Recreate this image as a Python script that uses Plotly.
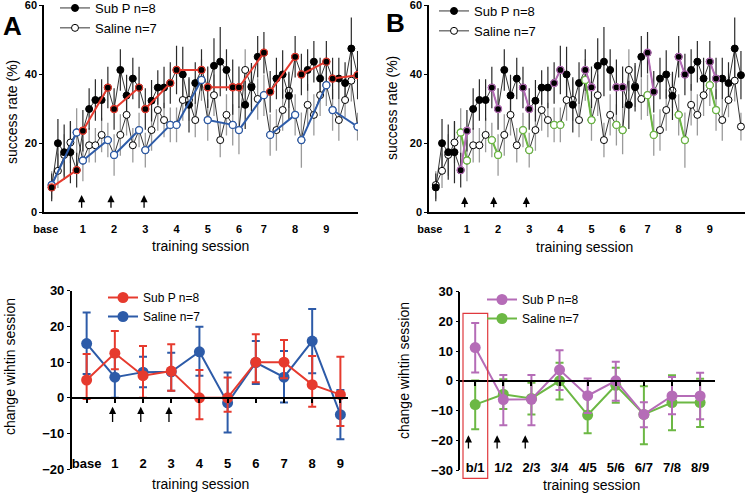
import plotly.graph_objects as go

W, H = 745, 493
FONT = "Liberation Sans, Arial, sans-serif"

# ---------------- data ----------------
sessions = ["base", "1", "2", "3", "4", "5", "6", "7", "8", "9"]
trials_per_session = 5

subp_rate = [7.2, 20.0, 17.4, 17.4, 12.2,
             23.6, 29.9, 32.5, 32.5, 36.1,
             29.9, 41.2, 33.8, 38.7, 36.1,
             29.9, 32.3, 36.1, 36.1, 37.4,
             41.2, 39.9, 31.1, 37.4, 41.2,
             36.2, 42.4, 43.6, 41.2, 36.2,
             36.2, 31.1, 36.2, 45.0, 46.2,
             34.9, 38.7, 39.9, 33.7, 45.0,
             39.9, 41.2, 43.6, 38.7, 43.6,
             38.7, 38.7, 37.4, 47.4, 39.7]
subp_rate_err = [4, 7, 8, 9, 5, 6, 6, 6, 6, 6,
                 6, 6, 6, 6, 6, 6, 6, 5, 6, 6,
                 7, 8, 8, 6, 6, 6, 8, 10, 6, 8,
                 6, 7, 7, 6, 6, 6, 6, 7, 7, 6,
                 6, 6, 6, 6, 6, 6, 6, 6, 9, 7]
saline_rate = [7.9, 12.0, 16.6, 20.2, 23.1,
               15.0, 19.4, 19.4, 22.4, 20.9,
               16.6, 22.4, 28.2, 19.4, 23.8,
               18.0, 23.8, 29.6, 26.7, 25.3,
               25.3, 32.5, 32.5, 26.7, 38.3,
               26.7, 33.9, 20.9, 28.2, 25.3,
               23.8, 41.2, 36.5, 32.8, 33.9,
               22.4, 23.8, 29.6, 35.2, 28.2,
               20.9, 31.1, 28.2, 33.9, 36.8,
               29.6, 26.7, 32.5, 38.1, 24.8]
saline_rate_err = [4, 5, 6, 6, 7, 6, 5, 5, 5, 5,
                   6, 6, 6, 5, 5, 5, 6, 6, 5, 5,
                   5, 6, 6, 5, 6, 6, 6, 5, 6, 6,
                   7, 6, 6, 6, 6, 6, 6, 6, 5, 6,
                   8, 6, 6, 6, 6, 6, 6, 5, 6, 4]
top_tick_pos = [-0.95, 5, 10, 15, 20, 25, 30, 34, 39, 44]

change_cats = sessions
subp_change = [5.0, 12.5, 6.2, 7.5, 0.0, 0.0, 10.0, 10.0, 3.7, 0.9]
subp_change_up = [7.3, 6.2, 8.3, 7.5, 7.8, 5.7, 7.8, 6.2, 8.0, 10.6]
subp_change_dn = [5.3, 4.5, 6.2, 5.5, 6.0, 3.9, 5.6, 4.5, 6.2, 8.8]
saline_change = [15.2, 5.8, 7.2, 7.3, 12.9, -1.4, 9.9, 5.8, 15.9, -4.7]
saline_change_up = [8.7, 5.8, 4.3, 5.3, 7.0, 8.5, 6.0, 7.3, 9.0, 6.9]
saline_change_dn = [8.5, 5.8, 4.2, 5.3, 6.7, 8.3, 6.0, 7.1, 9.0, 6.9]

between_cats = ["b/1", "1/2", "2/3", "3/4", "4/5", "5/6", "6/7", "7/8", "8/9"]
subp_between = [11.2, -6.3, -6.2, 3.7, -5.0, 0.0, -11.3, -5.1, -5.1]
subp_between_up = [8.3, 8.3, 8.2, 6.6, 5.8, 6.4, 4.1, 6.4, 7.8]
subp_between_dn = [8.4, 8.6, 8.7, 6.8, 5.8, 6.7, 4.3, 6.1, 7.8]
saline_between = [-8.0, -4.5, -5.9, 0.0, -11.5, -1.5, -11.3, -7.3, -7.3]
saline_between_up = [8.1, 5.0, 5.3, 6.1, 6.2, 5.9, 9.5, 9.2, 8.0]
saline_between_dn = [8.3, 5.0, 5.4, 6.3, 6.1, 5.9, 10.0, 9.3, 8.2]

RED, BLUE = "#e63a2e", "#2d5ba8"
PURPLE, GREEN = "#b56cb7", "#6cb844"

# ---------------- helpers ----------------
tps = trials_per_session
x_trial = list(range(len(subp_rate)))


def seg_within(vals):
    xs, ys = [], []
    for s in range(len(sessions)):
        a, b = s * tps, s * tps + tps - 1
        xs += [a, b, b]
        ys += [vals[a], vals[b], None]
    return xs, ys


def seg_between(vals):
    xs, ys = [], []
    for s in range(len(sessions) - 1):
        a = s * tps + tps - 1
        b = a + 1
        xs += [a, b, b]
        ys += [vals[a], vals[b], None]
    return xs, ys


fig = go.Figure()


def add_top(xa, ya, leg, seg_fn, c_subp, c_sal):
    fig.add_trace(go.Scatter(x=x_trial, y=saline_rate, mode="markers", xaxis=xa, yaxis=ya,
                             marker=dict(size=1, color="rgba(0,0,0,0)"), showlegend=False,
                             hoverinfo="skip",
                             error_y=dict(type="data", array=saline_rate_err, color="#9a9a9a",
                                          thickness=1.3, width=0)))
    fig.add_trace(go.Scatter(x=x_trial, y=subp_rate, mode="markers", xaxis=xa, yaxis=ya,
                             marker=dict(size=1, color="rgba(0,0,0,0)"), showlegend=False,
                             hoverinfo="skip",
                             error_y=dict(type="data", array=subp_rate_err, color="#2a2a2a",
                                          thickness=1.2, width=0)))
    fig.add_trace(go.Scatter(x=x_trial, y=saline_rate, mode="lines+markers", xaxis=xa, yaxis=ya,
                             name="Saline n=7", legend=leg, legendrank=2,
                             line=dict(color="black", width=0.8),
                             marker=dict(size=7, color="white", line=dict(color="black", width=1))))
    fig.add_trace(go.Scatter(x=x_trial, y=subp_rate, mode="lines+markers", xaxis=xa, yaxis=ya,
                             name="Sub P n=8", legend=leg, legendrank=1,
                             line=dict(color="black", width=0.8),
                             marker=dict(size=7, color="black", line=dict(color="black", width=1))))
    sx, sy = seg_fn(saline_rate)
    fig.add_trace(go.Scatter(x=sx, y=sy, mode="lines+markers", xaxis=xa, yaxis=ya, showlegend=False,
                             connectgaps=False, line=dict(color=c_sal, width=2),
                             marker=dict(size=7, color="white", line=dict(color=c_sal, width=1.3))))
    px, py = seg_fn(subp_rate)
    fig.add_trace(go.Scatter(x=px, y=py, mode="lines+markers", xaxis=xa, yaxis=ya, showlegend=False,
                             connectgaps=False, line=dict(color=c_subp, width=2),
                             marker=dict(size=7, color="black", line=dict(color=c_subp, width=1.3))))


add_top("x", "y", "legend", seg_within, RED, BLUE)
add_top("x2", "y2", "legend2", seg_between, PURPLE, GREEN)


def add_bottom(xa, ya, leg, cats, sv, sup, sdn, cv, cup, cdn, c_subp, c_sal):
    fig.add_trace(go.Scatter(x=cats, y=cv, mode="lines+markers", xaxis=xa, yaxis=ya,
                             name="Saline n=7", legend=leg, legendrank=2,
                             line=dict(color=c_sal, width=2),
                             marker=dict(size=11, color=c_sal),
                             error_y=dict(type="data", symmetric=False, array=cup, arrayminus=cdn,
                                          color=c_sal, thickness=2, width=4)))
    fig.add_trace(go.Scatter(x=cats, y=sv, mode="lines+markers", xaxis=xa, yaxis=ya,
                             name="Sub P n=8", legend=leg, legendrank=1,
                             line=dict(color=c_subp, width=2),
                             marker=dict(size=11, color=c_subp),
                             error_y=dict(type="data", symmetric=False, array=sup, arrayminus=sdn,
                                          color=c_subp, thickness=2, width=4)))


add_bottom("x3", "y3", "legend3", change_cats, subp_change, subp_change_up, subp_change_dn,
           saline_change, saline_change_up, saline_change_dn, RED, BLUE)
add_bottom("x4", "y4", "legend4", between_cats, subp_between, subp_between_up, subp_between_dn,
           saline_between, saline_between_up, saline_between_dn, PURPLE, GREEN)

# ---------------- layout ----------------
def px_x(p):
    return p / W


def px_y(p):
    return 1 - p / H


def zero_pos(dom, rng):
    return dom[0] + (0 - rng[0]) / (rng[1] - rng[0]) * (dom[1] - dom[0])


bold_top = dict(family=FONT, size=11, color="black", weight="bold")
bold_bot = dict(family=FONT, size=13, color="black", weight="bold")

common_x = dict(showgrid=False, zeroline=False, showline=True, linecolor="black", linewidth=1.5,
                automargin=False, ticklabeloverflow="allow")
common_y = dict(showgrid=False, zeroline=False, showline=True, linecolor="black", linewidth=1.5,
                ticks="outside", ticklen=3, tickwidth=1.3, tickcolor="black", automargin=False,
                ticklabeloverflow="allow")

y_top_dom = [px_y(212.3), px_y(5)]
y3_dom = [px_y(469.3), px_y(290.7)]
y4_dom = [px_y(470), px_y(291.7)]
y3_rng = [-20, 30]
y4_rng = [-30, 30]

legend_common = dict(xanchor="left", yanchor="top", bgcolor="rgba(0,0,0,0)",
                     tracegroupgap=0, itemwidth=30)

fig.update_layout(
    width=W, height=H, margin=dict(l=0, r=0, t=0, b=0, autoexpand=False),
    paper_bgcolor="white", plot_bgcolor="white",
    font=dict(family=FONT, color="black"),
    xaxis=dict(domain=[px_x(44), px_x(358)], range=[-1.23, 49.07], anchor="y",
               tickvals=top_tick_pos, ticktext=sessions, ticks="", tickfont=bold_top,
               ticklabelstandoff=6, **common_x),
    yaxis=dict(domain=y_top_dom, range=[0, 60], dtick=20, anchor="x", tickfont=bold_top, **common_y),
    xaxis2=dict(domain=[px_x(429), 1.0], range=[-1.09, 49.65], anchor="y2",
                tickvals=top_tick_pos, ticktext=sessions, ticks="", tickfont=bold_top,
                ticklabelstandoff=6, **common_x),
    yaxis2=dict(domain=y_top_dom, range=[0, 60], dtick=20, anchor="x2", tickfont=bold_top, **common_y),
    xaxis3=dict(domain=[px_x(71.7), px_x(348)], range=[-0.53, 9.27], anchor="free",
                position=zero_pos(y3_dom, y3_rng), type="category",
                ticks="outside", ticklen=4, tickwidth=1.5, tickcolor="black",
                tickfont=bold_bot, ticklabelstandoff=50, showgrid=False, zeroline=False,
                showline=True, linecolor="black", linewidth=2, automargin=False,
                ticklabeloverflow="allow"),
    yaxis3=dict(domain=y3_dom, range=y3_rng, dtick=10, anchor="x3", tickfont=bold_bot, **common_y),
    xaxis4=dict(domain=[px_x(460.3), px_x(715.3)], range=[-0.53, 8.54], anchor="free",
                position=zero_pos(y4_dom, y4_rng), type="category",
                ticks="outside", ticklen=4, tickwidth=1.5, tickcolor="black",
                tickfont=bold_bot, ticklabelstandoff=71, showgrid=False, zeroline=False,
                showline=True, linecolor="black", linewidth=2, automargin=False,
                ticklabeloverflow="allow"),
    yaxis4=dict(domain=y4_dom, range=y4_rng, dtick=10, anchor="x4", tickfont=bold_bot, **common_y),
    legend=dict(x=px_x(55), y=px_y(-7), font=dict(family=FONT, size=13), **legend_common),
    legend2=dict(x=px_x(434), y=px_y(-4), font=dict(family=FONT, size=13), **legend_common),
    legend3=dict(x=px_x(103), y=px_y(283), font=dict(family=FONT, size=12), **legend_common),
    legend4=dict(x=px_x(482), y=px_y(285), font=dict(family=FONT, size=12), **legend_common),
    showlegend=True,
)

ann = []
title_font = dict(family=FONT, size=14, color="black")
for (cx, cy, txt, ang) in [
    (201, 246, "training session", 0), (584, 247, "training session", 0),
    (201, 484, "training session", 0), (591, 485, "training session", 0),
    (12, 112, "success rate (%)", -90), (392, 108, "success rate (%)", -90),
    (10, 367, "change wihtin session", -90), (404, 371, "change wihtin session", -90),
]:
    ann.append(dict(x=px_x(cx), y=px_y(cy), xref="paper", yref="paper", text=txt, showarrow=False,
                    textangle=ang, font=title_font, xanchor="center", yanchor="middle"))

letter_font = dict(family=FONT, size=26, color="black", weight="bold")
ann.append(dict(x=px_x(13), y=px_y(26), xref="paper", yref="paper", text="A", showarrow=False,
                font=letter_font, xanchor="center", yanchor="middle"))
ann.append(dict(x=px_x(395), y=px_y(23), xref="paper", yref="paper", text="B", showarrow=False,
                font=letter_font, xanchor="center", yanchor="middle"))

arrow_sets = [
    ("x", "y", [4.8, 9.5, 14.8], 5.0, 0.9),
    ("x2", "y2", [4.64, 9.3, 14.54], 4.5, 1.0),
    ("x3", "y3", [0.92, 1.92, 2.92], -2.5, -7.2),
    ("x4", "y4", [-0.24, 0.78, 1.78], -18.3, -23.3),
]
for xr, yr, xs, tip, tail in arrow_sets:
    for xv in xs:
        ann.append(dict(x=xv, y=tip, ax=xv, ay=tail, xref=xr, yref=yr, axref=xr, ayref=yr,
                        text="", showarrow=True, arrowhead=2, arrowsize=1.1, arrowwidth=1.3,
                        arrowcolor="black", standoff=0, startstandoff=0))

fig.update_layout(annotations=ann)

fig.add_shape(type="rect", xref="paper", yref="paper",
              x0=px_x(463), x1=px_x(487.7), y0=px_y(478.3), y1=px_y(313.3),
              line=dict(color="#e0393e", width=1.2), fillcolor="rgba(0,0,0,0)")

fig.write_html("out.html",
               config={"displayModeBar": False},
               post_script="document.body.style.margin='0';document.body.style.overflow='hidden';")
